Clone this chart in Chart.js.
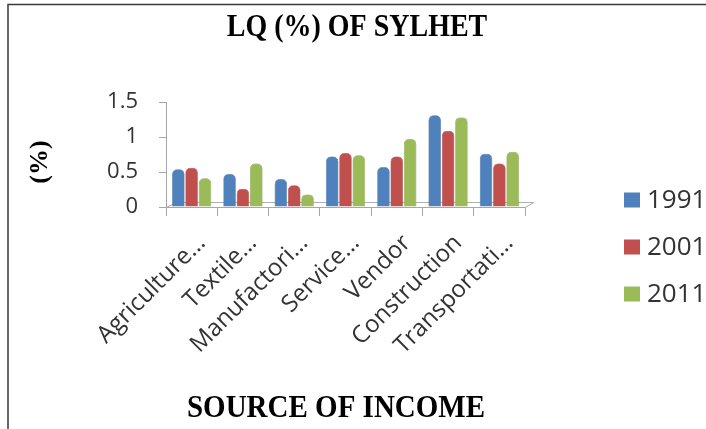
<!DOCTYPE html>
<html>
<head>
<meta charset="utf-8">
<script src="https://cdn.jsdelivr.net/npm/chart.js@4/dist/chart.umd.min.js"></script>
<style>
html,body{margin:0;padding:0;background:#fff;}
canvas{display:block;}
</style>
</head>
<body>
<canvas id="c" width="706" height="429"></canvas>
<script>
const categories = ["Agriculture\u2026","Textile\u2026","Manufactori\u2026","Service\u2026","Vendor","Construction","Transportati\u2026"];
const seriesNames = ["1991","2001","2011"];
const values1991 = [0.54,0.47,0.40,0.72,0.57,1.31,0.76];
const values2001 = [0.56,0.26,0.31,0.77,0.72,1.09,0.62];
const values2011 = [0.41,0.62,0.18,0.74,0.97,1.28,0.79];
const yTicks = [0,0.5,1,1.5];
const chartTitle = "LQ (%) OF SYLHET";
const xTitle = "SOURCE OF INCOME";
const yTitle = "(%)";
const colors = ["#4F81BD","#C0504D","#9BBB59"];
const darks = ["#385D8A","#8C3836","#71893F"];
const serif = '"Liberation Serif", "Times New Roman", serif';
const sans = '"Open Sans", "Noto Sans", sans-serif';

function grad(i){
  return function(ctx){
    const el = ctx.element;
    const c = ctx.chart.ctx;
    if(!el || el.x === undefined || isNaN(el.x)) return colors[i];
    const w = el.width || 12;
    const g = c.createLinearGradient(el.x - w/2, 0, el.x + w/2, 0);
    g.addColorStop(0, darks[i]);
    g.addColorStop(0.3, colors[i]);
    g.addColorStop(0.65, colors[i]);
    g.addColorStop(1, darks[i]);
    return g;
  };
}

const decorPlugin = {
  id: 'decor',
  beforeDatasetsDraw(chart){
    const c = chart.ctx, a = chart.chartArea;
    c.save();
    c.strokeStyle = '#b0b0b0';
    c.lineWidth = 1;
    c.beginPath();
    c.moveTo(a.left, a.bottom + 0.5);
    c.lineTo(a.left + 11, a.bottom - 5 + 0.5);
    c.lineTo(a.right + 9, a.bottom - 5 + 0.5);
    c.lineTo(a.right, a.bottom + 0.5);
    c.stroke();
    c.restore();
  },
  afterDraw(chart){
    const c = chart.ctx;
    c.save();
    c.strokeStyle = '#3a3a3a';
    c.lineWidth = 1.5;
    c.beginPath();
    c.moveTo(8, 429);
    c.lineTo(8, 4.5);
    c.lineTo(706, 4.5);
    c.stroke();
    c.fillStyle = '#000';
    c.textAlign = 'center';
    c.textBaseline = 'middle';
    c.font = 'bold 28px ' + serif;
    c.save(); c.translate(357, 28); c.scale(1, 1.12); c.fillText(chartTitle, 0, 0); c.restore();
    c.font = 'bold 29px ' + serif;
    c.save(); c.translate(336, 409); c.scale(1, 1.1); c.fillText(xTitle, 0, 0); c.restore();
    c.font = 'bold 26px ' + serif;
    c.save(); c.translate(40, 162); c.rotate(-Math.PI/2); c.fillText(yTitle, 0, 0); c.restore();
    c.font = '26px ' + sans;
    c.textAlign = 'left';
    const ys = [200,247,294];
    seriesNames.forEach((n,i)=>{
      c.fillStyle = colors[i];
      c.fillRect(624, ys[i]-7.5, 16, 15);
      c.fillStyle = '#333';
      c.fillText(n, 647, ys[i] + 1);
    });
    c.restore();
  }
};

new Chart(document.getElementById('c'), {
  type: 'bar',
  data: {
    labels: categories,
    datasets: [
      {label: seriesNames[0], data: values1991, backgroundColor: grad(0), borderColor: darks[0], borderWidth: 0.5, borderRadius: {topLeft: 5, topRight: 5}},
      {label: seriesNames[1], data: values2001, backgroundColor: grad(1), borderColor: darks[1], borderWidth: 0.5, borderRadius: {topLeft: 5, topRight: 5}},
      {label: seriesNames[2], data: values2011, backgroundColor: grad(2), borderColor: darks[2], borderWidth: 0.5, borderRadius: {topLeft: 5, topRight: 5}}
    ]
  },
  options: {
    responsive: false,
    animation: false,
    devicePixelRatio: 1,
    layout: {padding: {left: 80, right: 181, top: 102, bottom: 7}},
    datasets: {bar: {categoryPercentage: 0.78, barPercentage: 0.94}},
    plugins: {
      legend: {display: false},
      tooltip: {enabled: false},
      title: {display: false}
    },
    scales: {
      x: {
        afterFit(scale){ scale.height = 215; },
        grid: {display: true, drawOnChartArea: false, color: '#a6a6a6', tickLength: 9, offset: true},
        border: {display: true, color: '#a6a6a6'},
        ticks: {color: '#333', font: {family: sans, size: 24}, minRotation: 45, maxRotation: 45, padding: 13, labelOffset: 10, autoSkip: false}
      },
      y: {
        min: 0, max: 1.5,
        afterBuildTicks(scale){ scale.ticks = yTicks.map(v=>({value:v})); },
        afterFit(scale){ scale.width = 86; },
        grid: {display: true, drawOnChartArea: false, color: '#a6a6a6', tickLength: 7},
        border: {display: true, color: '#a6a6a6'},
        ticks: {color: '#333', font: {family: sans, size: 22}, padding: 21, callback: v => String(v)}
      }
    }
  },
  plugins: [decorPlugin]
});
</script>
</body>
</html>
